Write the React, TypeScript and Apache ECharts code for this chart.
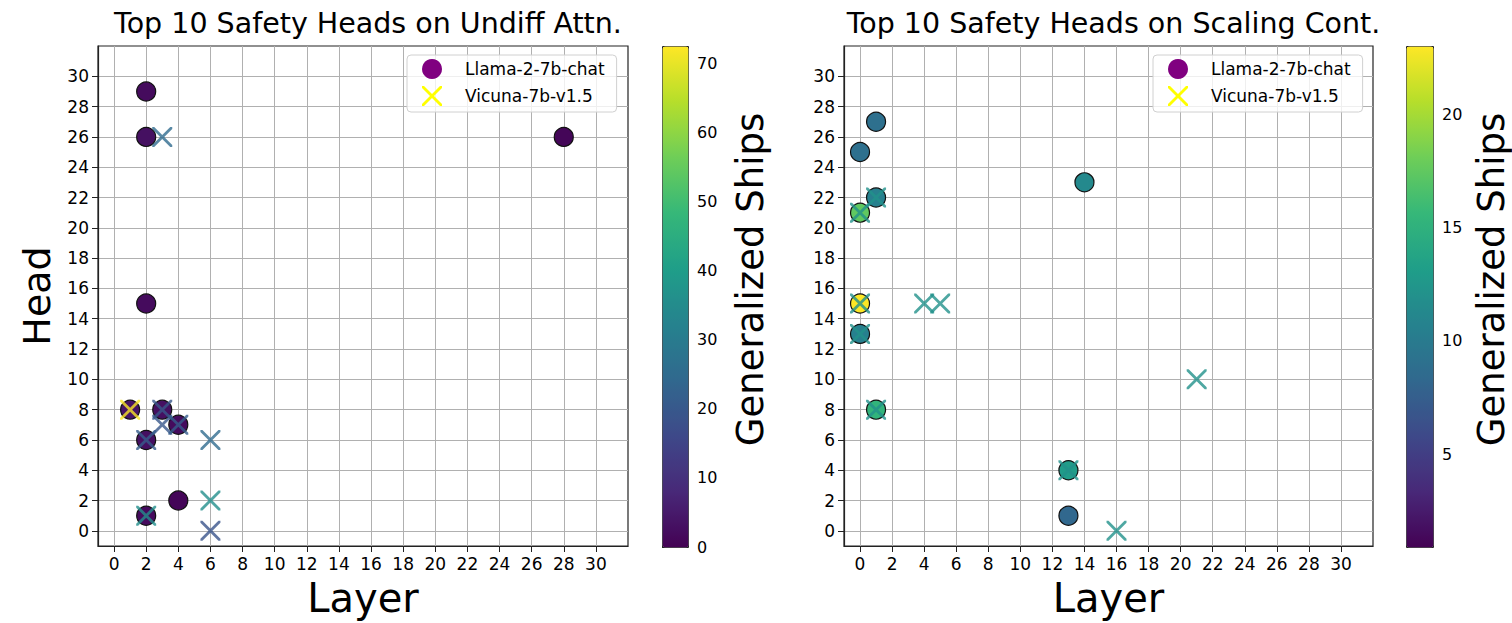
import React, { useEffect, useRef } from "react";
import * as echarts from "echarts";

// ---------- data ----------
const layerTicks = [0, 2, 4, 6, 8, 10, 12, 14, 16, 18, 20, 22, 24, 26, 28, 30];
const headTicks = [0, 2, 4, 6, 8, 10, 12, 14, 16, 18, 20, 22, 24, 26, 28, 30];
const undiffCbTicks = [0, 10, 20, 30, 40, 50, 60, 70];
const scalingCbTicks = [5, 10, 15, 20];

const modelNames = ["Llama-2-7b-chat", "Vicuna-7b-v1.5"];

// Left plot: Undiff Attn.
const undiffLlamaLayer = [2, 2, 28, 2, 1, 3, 4, 2, 4, 2];
const undiffLlamaHead = [29, 26, 26, 15, 8, 8, 7, 6, 2, 1];
const undiffLlamaShips = [2, 3, 1, 2, 4, 3, 2, 3, 1, 2];

const undiffVicunaLayer = [3, 1, 3, 3, 4, 2, 6, 6, 6, 2];
const undiffVicunaHead = [26, 8, 8, 7, 7, 6, 6, 2, 0, 1];
const undiffVicunaShips = [25, 72, 20, 20, 21, 21, 25, 36, 19, 36];

// Right plot: Scaling Cont.
const scalingLlamaLayer = [1, 0, 1, 0, 14, 0, 0, 1, 13, 13];
const scalingLlamaHead = [27, 25, 22, 21, 23, 15, 13, 8, 4, 1];
const scalingLlamaShips = [9, 9, 10.5, 17.5, 11.3, 23, 10.5, 15.3, 13, 8.3];

const scalingVicunaLayer = [1, 0, 0, 0, 1, 13, 4, 5, 21, 16];
const scalingVicunaHead = [22, 21, 15, 13, 8, 4, 15, 15, 10, 0];
const scalingVicunaShips = [12, 12, 12, 12, 12, 12, 12, 12, 12, 12];

const undiffRange = [0, 72.5];
const scalingRange = [0.9, 23];

// ---------- styling ----------
const FONT = "DejaVu Sans";
const VIRIDIS = [
  "#440154", "#482878", "#3e4989", "#31688e", "#26828e",
  "#1f9e89", "#35b779", "#6ece58", "#b5de2b", "#fde725",
];
const XPATH =
  "path://M0,0L2,0L10,8L18,0L20,0L20,2L12,10L20,18L20,20L18,20L10,12L2,20L0,20L0,18L8,10L0,2Z";

const zip = (a: number[], b: number[], c: number[]) => a.map((v, i) => [v, b[i], c[i]]);

const spine = { color: "#222", width: 1.2 };

function plotX(gridIndex: number) {
  return {
    gridIndex,
    type: "value",
    min: -1,
    max: 32,
    name: "Layer",
    nameLocation: "middle",
    nameGap: 32,
    nameTextStyle: { fontSize: 40, fontFamily: FONT, color: "#000" },
    axisLine: { show: true, onZero: false, lineStyle: spine },
    axisTick: { show: true, length: 6, customValues: layerTicks, lineStyle: { color: "#222", width: 1 } },
    axisLabel: { customValues: layerTicks, fontSize: 17, fontFamily: FONT, color: "#000", margin: 9 },
    splitLine: { show: true, lineStyle: { color: "#b0b0b0", width: 1 } },
  };
}

function plotY(gridIndex: number, withName: boolean) {
  return {
    gridIndex,
    type: "value",
    min: -1,
    max: 32,
    name: withName ? "Head" : "",
    nameLocation: "middle",
    nameGap: 42,
    nameTextStyle: { fontSize: 38, fontFamily: FONT, color: "#000" },
    axisLine: { show: true, onZero: false, lineStyle: spine },
    axisTick: { show: true, length: 6, customValues: headTicks, lineStyle: { color: "#222", width: 1 } },
    axisLabel: { customValues: headTicks, fontSize: 17, fontFamily: FONT, color: "#000", margin: 9 },
    splitLine: { show: true, lineStyle: { color: "#b0b0b0", width: 1 } },
  };
}

function cbY(gridIndex: number, range: number[], ticks: number[], gap: number) {
  return {
    gridIndex,
    type: "value",
    position: "right",
    min: range[0],
    max: range[1],
    name: "Generalized Ships",
    nameLocation: "middle",
    nameRotate: 90,
    nameGap: gap,
    nameTextStyle: { fontSize: 37, fontFamily: FONT, color: "#000", padding: [0, 0, 0, 34] },
    axisLine: { show: false },
    axisTick: { show: true, length: 6, customValues: ticks, lineStyle: { color: "#222", width: 1 } },
    axisLabel: { customValues: ticks, fontSize: 16, fontFamily: FONT, color: "#000", margin: 9 },
    splitLine: { show: false },
  };
}

function legendFor(left: number) {
  return {
    left,
    top: 55,
    orient: "vertical",
    itemWidth: 40,
    itemHeight: 20,
    itemGap: 7,
    padding: [4, 12, 6, 15],
    borderColor: "#d0d0d0",
    borderWidth: 1,
    borderRadius: 4,
    backgroundColor: "rgba(255,255,255,0.8)",
    selectedMode: false,
    textStyle: { fontSize: 17, fontFamily: FONT, color: "#000", padding: [0, 0, 0, 8] },
    data: [
      { name: modelNames[0], icon: "circle", itemStyle: { color: "#800080", borderWidth: 0, opacity: 1 } },
      { name: modelNames[1], icon: XPATH, itemStyle: { color: "#ffff00", borderWidth: 0, opacity: 1 } },
    ],
  };
}

export default function App() {
  const ref = useRef<HTMLDivElement>(null);

  useEffect(() => {
    document.body.style.margin = "0";
    if (!ref.current) return;
    const chart = echarts.init(ref.current, undefined, { renderer: "svg" });

    const circleStyle = { borderColor: "#111", borderWidth: 1.2, opacity: 1 };
    const crossStyle = { opacity: 0.8, borderWidth: 0 };

    chart.setOption({
      animation: false,
      backgroundColor: "#fff",
      textStyle: { fontFamily: FONT },
      title: [
        {
          text: "Top 10 Safety Heads on Undiff Attn.",
          left: 363,
          top: 4,
          textAlign: "center",
          textStyle: { fontSize: 28.5, fontWeight: "normal", fontFamily: FONT, color: "#000" },
        },
        {
          text: "Top 10 Safety Heads on Scaling Cont.",
          left: 1108.5,
          top: 4,
          textAlign: "center",
          textStyle: { fontSize: 28.5, fontWeight: "normal", fontFamily: FONT, color: "#000" },
        },
      ],
      legend: [legendFor(407), legendFor(1153)],
      grid: [
        { left: 98, top: 46, width: 530, height: 501, show: true, borderColor: "#222", borderWidth: 1.2, backgroundColor: "transparent" },
        { left: 844, top: 46, width: 529, height: 501, show: true, borderColor: "#222", borderWidth: 1.2, backgroundColor: "transparent" },
        { left: 662, top: 46, width: 26, height: 501 },
        { left: 1406, top: 46, width: 27, height: 501 },
      ],
      xAxis: [
        plotX(0),
        plotX(1),
        { gridIndex: 2, type: "value", show: false, min: 0, max: 1 },
        { gridIndex: 3, type: "value", show: false, min: 0, max: 1 },
      ],
      yAxis: [
        plotY(0, true),
        plotY(1, false),
        cbY(2, undiffRange, undiffCbTicks, 44),
        cbY(3, scalingRange, scalingCbTicks, 40),
      ],
      visualMap: [
        {
          type: "continuous",
          min: undiffRange[0],
          max: undiffRange[1],
          dimension: 2,
          seriesIndex: [0, 1],
          left: 662,
          top: 46,
          itemWidth: 26,
          itemHeight: 501,
          padding: 0,
          calculable: false,
          borderColor: "#222",
          borderWidth: 1,
          inRange: { color: VIRIDIS },
        },
        {
          type: "continuous",
          min: scalingRange[0],
          max: scalingRange[1],
          dimension: 2,
          seriesIndex: [2, 3],
          left: 1406,
          top: 46,
          itemWidth: 27,
          itemHeight: 501,
          padding: 0,
          calculable: false,
          borderColor: "#222",
          borderWidth: 1,
          inRange: { color: VIRIDIS },
        },
      ],
      series: [
        {
          name: modelNames[0],
          type: "scatter",
          xAxisIndex: 0,
          yAxisIndex: 0,
          symbol: "circle",
          symbolSize: 19,
          itemStyle: circleStyle,
          data: zip(undiffLlamaLayer, undiffLlamaHead, undiffLlamaShips),
        },
        {
          name: modelNames[1],
          type: "scatter",
          xAxisIndex: 0,
          yAxisIndex: 0,
          symbol: XPATH,
          symbolSize: 20,
          itemStyle: crossStyle,
          data: zip(undiffVicunaLayer, undiffVicunaHead, undiffVicunaShips),
        },
        {
          name: modelNames[0],
          type: "scatter",
          xAxisIndex: 1,
          yAxisIndex: 1,
          symbol: "circle",
          symbolSize: 19,
          itemStyle: circleStyle,
          data: zip(scalingLlamaLayer, scalingLlamaHead, scalingLlamaShips),
        },
        {
          name: modelNames[1],
          type: "scatter",
          xAxisIndex: 1,
          yAxisIndex: 1,
          symbol: XPATH,
          symbolSize: 20,
          itemStyle: crossStyle,
          data: zip(scalingVicunaLayer, scalingVicunaHead, scalingVicunaShips),
        },
      ],
    });

    return () => chart.dispose();
  }, []);

  return <div ref={ref} style={{ width: 1512, height: 623 }} />;
}
